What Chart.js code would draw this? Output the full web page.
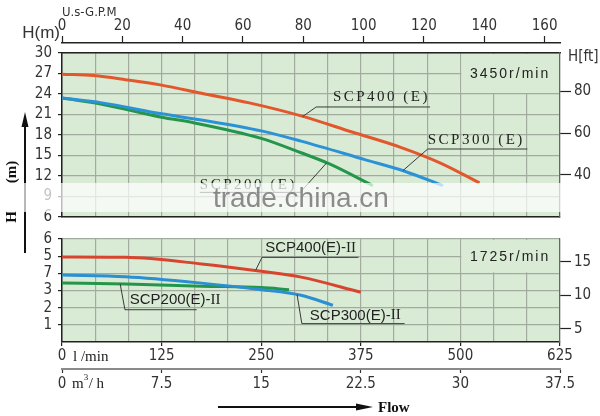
<!DOCTYPE html>
<html>
<head>
<meta charset="utf-8">
<script src="https://cdn.jsdelivr.net/npm/chart.js@4.4.1/dist/chart.umd.min.js"></script>
<style>
  html, body { margin: 0; padding: 0; background: #fff; }
  #wrap { position: relative; width: 600px; height: 416px; overflow: hidden; }
  #top-chart { position: absolute; left: 0; top: 0; }
  #bottom-chart { position: absolute; left: 0; top: 224px; }
</style>
</head>
<body>
<div id="wrap">
  <canvas id="top-chart" width="600" height="260"></canvas>
  <canvas id="bottom-chart" width="600" height="192"></canvas>
</div>
<script>
// 3450 r/min curves: flow (l/min) and head (m)
const q400 = [0, 40, 80, 125, 175, 235, 300, 365, 425, 475, 524];
const h400 = [26.9, 26.7, 26.1, 25.3, 24.1, 22.7, 20.8, 18.4, 16.2, 13.9, 11.0];
const q300 = [0, 50, 125, 175, 250, 300, 380, 430, 478];
const h300 = [23.4, 22.7, 21.1, 20.2, 18.6, 17.1, 14.4, 12.7, 10.6];
const q200 = [0, 50, 125, 165, 250, 300, 335, 390];
const h200 = [23.4, 22.5, 20.6, 19.8, 17.5, 15.4, 13.8, 10.6];

// 1725 r/min curves
const q400ii = [0, 80, 175, 250, 300, 375];
const h400ii = [4.95, 4.93, 4.55, 4.12, 3.78, 2.9];
const q300ii = [0, 80, 175, 250, 300, 340];
const h300ii = [3.9, 3.8, 3.43, 3.05, 2.72, 2.14];
const q200ii = [0, 80, 175, 250, 285];
const h200ii = [3.43, 3.38, 3.25, 3.17, 3.05];

// axis ticks
const gpmTicks = [0, 20, 40, 60, 80, 100, 120, 140, 160];
const flowTicks = [0, 125, 250, 375, 500, 625];
const m3hTicks = [0, 7.5, 15, 22.5, 30, 37.5];
const headTicksTop = [6, 9, 12, 15, 18, 21, 24, 27, 30];
const ftTicksTop = [40, 60, 80];
const headTicksLow = [1, 2, 3, 4, 5, 6];
const headLabelsLow = ['1', '2', '3', '7', '5', '6'];
const ftTicksLow = [5, 10, 15];
const flowGrid = Array.from({ length: 16 }, (_, i) => (i * 625) / 15);

const NARROW = "'Liberation Sans Narrow', 'DejaVu Sans Condensed', 'Liberation Sans', sans-serif";
const SANS = "'Liberation Sans', Arial, sans-serif";
const SERIF = "'Liberation Serif', 'DejaVu Serif', serif";
const PLOT_BG = '#d9ebd5';
const GRID = '#a2ac9e';
const INK = '#222';

// curve labels: text anchor (left, middle) and leader/underline path, in data units
const topNotes = [
  { text: 'SCP400 (E)', at: [340, 23.56], path: [[302, 20.7], [319, 22.1], [462, 22.1]] },
  { text: 'SCP300 (E)', at: [459, 17.27], path: [[428, 12.8], [459, 15.95], [584, 15.95]] },
  { text: 'SCP200 (E)', at: [173, 10.68], path: [[173, 9.6], [299, 9.6], [332, 13.9]] }
];
const lowNotes = [
  { text: 'SCP400(E)-', roman: 'II', at: [255, 5.46], path: [[243, 4.18], [251, 4.93], [372, 4.93]] },
  { text: 'SCP300(E)-', roman: 'II', at: [311, 1.55], path: [[295, 2.76], [301, 1.07], [430, 1.07]] },
  { text: 'SCP200(E)-', roman: 'II', at: [85, 2.46], path: [[73, 3.38], [79, 1.88], [169, 1.88]] }
];

const pts = (q, h) => q.map((v, i) => ({ x: v, y: h[i] }));
const isFlowLabel = v => flowTicks.some(t => Math.abs(t - v) < 1e-6);
const fixTicks = list => s => { s.ticks = list.map(v => ({ value: v })); };

function curve(label, data, color) {
  return {
    label, data, borderColor: color, borderWidth: 3, pointRadius: 0,
    cubicInterpolationMode: 'monotone', fill: false, xAxisID: 'x', yAxisID: 'y'
  };
}

function drawNotes(chart, notes, serifTop) {
  const { ctx, scales: { x, y } } = chart;
  const px = p => [x.getPixelForValue(p[0]), y.getPixelForValue(p[1])];
  ctx.save();
  notes.forEach(n => {
    ctx.strokeStyle = '#3a3a3a';
    ctx.lineWidth = 1;
    ctx.beginPath();
    n.path.forEach((p, i) => {
      const [a, b] = px(p);
      i ? ctx.lineTo(a, b) : ctx.moveTo(a, b);
    });
    ctx.stroke();
    const [tx, ty] = px(n.at);
    ctx.fillStyle = INK;
    ctx.textBaseline = 'middle';
    ctx.textAlign = 'left';
    if (serifTop) {
      ctx.font = `15px ${SERIF}`;
      ctx.letterSpacing = '2.5px';
      ctx.fillText(n.text, tx, ty);
      ctx.letterSpacing = '0px';
    } else {
      ctx.font = `15px ${SANS}`;
      ctx.fillText(n.text, tx, ty);
      const w = ctx.measureText(n.text).width;
      ctx.font = `15px ${SERIF}`;
      ctx.fillText(n.roman, tx + w, ty);
    }
  });
  ctx.restore();
}

function speedBox(chart, box, text) {
  const { ctx, scales: { x, y } } = chart;
  const l = x.getPixelForValue(box[0]) + 1, r = x.getPixelForValue(box[1]) - 1;
  const t = y.getPixelForValue(box[3]) + 1, b = y.getPixelForValue(box[2]) - 1;
  ctx.save();
  ctx.fillStyle = PLOT_BG;
  ctx.fillRect(l, t, r - l, b - t);
  ctx.fillStyle = INK;
  ctx.font = `14px ${SANS}`;
  ctx.letterSpacing = '2px';
  ctx.textAlign = 'left';
  ctx.textBaseline = 'middle';
  ctx.fillText(text, x.getPixelForValue(512), (t + b) / 2 + 1);
  ctx.restore();
}

const plotBg = {
  id: 'plotBg',
  beforeDraw(chart) {
    const { ctx, chartArea: a } = chart;
    ctx.save();
    ctx.fillStyle = PLOT_BG;
    ctx.fillRect(a.left, a.top, a.right - a.left, a.bottom - a.top);
    ctx.restore();
  }
};

const topDecor = {
  id: 'topDecor',
  beforeDatasetsDraw(chart) { speedBox(chart, [500, 625, 24, 30], '3450r/min'); },
  afterDatasetsDraw(chart) { drawNotes(chart, topNotes, true); },
  afterDraw(chart) {
    const { ctx, chartArea: a } = chart;
    ctx.save();
    ctx.fillStyle = '#333';
    ctx.textBaseline = 'middle';
    ctx.font = `13px ${NARROW}`;
    ctx.textAlign = 'left';
    ctx.fillText('U.s-G.P.M', a.left, 13);
    ctx.font = `17px ${SANS}`;
    ctx.textAlign = 'right';
    ctx.fillText('H(m)', a.left - 2, 33);
    ctx.font = `15px ${NARROW}`;
    ctx.textAlign = 'left';
    ctx.fillText('H[ft]', a.right + 8, 57);

    // vertical axis title with arrow
    ctx.strokeStyle = '#111';
    ctx.fillStyle = '#111';
    ctx.lineWidth = 2;
    ctx.beginPath();
    ctx.moveTo(25, 253);
    ctx.lineTo(25, 124);
    ctx.stroke();
    ctx.beginPath();
    ctx.moveTo(25, 112);
    ctx.lineTo(21.5, 127);
    ctx.lineTo(28.5, 127);
    ctx.closePath();
    ctx.fill();
    ctx.font = `bold 15px ${SERIF}`;
    ctx.textAlign = 'center';
    [['(m)', 172], ['H', 217]].forEach(([t, cy]) => {
      ctx.save();
      ctx.translate(12, cy);
      ctx.rotate(-Math.PI / 2);
      ctx.fillText(t, 0, 0);
      ctx.restore();
    });

    // site watermark band
    ctx.fillStyle = 'rgba(255,255,255,0.7)';
    ctx.fillRect(0, 183, 600, 29);
    ctx.fillStyle = 'rgba(120,120,120,0.85)';
    ctx.font = `28px ${SANS}`;
    ctx.textAlign = 'left';
    ctx.textBaseline = 'alphabetic';
    ctx.fillText('trade.china.cn', 213, 207);
    ctx.restore();
  }
};

const lowDecor = {
  id: 'lowDecor',
  beforeDatasetsDraw(chart) { speedBox(chart, [500, 625, 4, 6], '1725r/min'); },
  afterDatasetsDraw(chart) { drawNotes(chart, lowNotes, false); },
  afterDraw(chart) {
    const { ctx, scales: { x, m3h } } = chart;
    const x0 = x.getPixelForValue(0);
    ctx.save();
    ctx.fillStyle = '#222';
    ctx.textBaseline = 'middle';
    ctx.textAlign = 'left';
    ctx.font = `15px ${SERIF}`;
    ctx.fillText('l /min', x0 + 11, x.top + 15);
    const my = m3h.top + 15;
    ctx.fillText('m', x0 + 10, my);
    const mw = ctx.measureText('m').width;
    ctx.font = `9px ${SERIF}`;
    ctx.fillText('3', x0 + 10 + mw, my - 6);
    ctx.font = `15px ${SERIF}`;
    ctx.fillText('/ h', x0 + 15 + mw, my);

    // flow arrow
    const ay = chart.chartArea.bottom + 65;
    ctx.strokeStyle = '#111';
    ctx.fillStyle = '#111';
    ctx.lineWidth = 2;
    ctx.beginPath();
    ctx.moveTo(218, ay);
    ctx.lineTo(360, ay);
    ctx.stroke();
    ctx.beginPath();
    ctx.moveTo(373, ay);
    ctx.lineTo(356, ay - 3.5);
    ctx.lineTo(356, ay + 3.5);
    ctx.closePath();
    ctx.fill();
    ctx.font = `bold 15px ${SERIF}`;
    ctx.fillText('Flow', 378, ay + 1);
    ctx.restore();
  }
};

const tickFont = { family: NARROW, size: 15 };

new Chart(document.getElementById('top-chart'), {
  type: 'line',
  data: {
    datasets: [
      curve('SCP400 (E)', pts(q400, h400), '#e2582c'),
      curve('SCP300 (E)', pts(q300, h300), '#2b92d6'),
      curve('SCP200 (E)', pts(q200, h200), '#24964b')
    ]
  },
  options: {
    responsive: false,
    animation: false,
    devicePixelRatio: 1,
    layout: { padding: 0 },
    plugins: { legend: { display: false }, tooltip: { enabled: false } },
    scales: {
      x: {
        type: 'linear', position: 'bottom', min: 0, max: 625,
        afterBuildTicks: fixTicks(flowGrid),
        ticks: { display: false },
        grid: { color: GRID, lineWidth: 1.2, drawTicks: false },
        border: { color: '#222', width: 1.5 },
        afterFit: s => { s.height = 43; }
      },
      gap: {
        type: 'linear', position: 'top', weight: 0, min: 0, max: 1,
        ticks: { display: false },
        grid: { display: false },
        border: { color: '#222', width: 1.5 },
        afterFit: s => { s.height = 10; }
      },
      gpm: {
        type: 'linear', position: 'top', weight: 1, min: 0, max: 625 / 3.7854,
        afterBuildTicks: fixTicks(gpmTicks),
        ticks: { font: tickFont, color: '#333', padding: 1, maxRotation: 0, autoSkip: false },
        grid: { drawOnChartArea: false, tickLength: 7, tickColor: '#222', tickWidth: 1.2 },
        border: { color: '#222', width: 1.5 },
        afterFit: s => { s.height = 43; }
      },
      y: {
        type: 'linear', position: 'left', min: 6, max: 30,
        afterBuildTicks: fixTicks(headTicksTop),
        ticks: { font: tickFont, color: '#333', padding: 6, autoSkip: false },
        grid: { color: GRID, lineWidth: 1.2, tickLength: 4, tickColor: '#222' },
        border: { color: '#222', width: 1.5 },
        afterFit: s => { s.width = 62; }
      },
      ft: {
        type: 'linear', position: 'right', min: 6 * 3.28084, max: 30 * 3.28084,
        afterBuildTicks: fixTicks(ftTicksTop),
        ticks: { font: tickFont, color: '#333', padding: 3, autoSkip: false },
        grid: { drawOnChartArea: false, tickLength: 11, tickColor: '#222', tickWidth: 1.2 },
        border: { color: '#666', width: 1.2 },
        afterFit: s => { s.width = 40; }
      }
    }
  },
  plugins: [plotBg, topDecor]
});

new Chart(document.getElementById('bottom-chart'), {
  type: 'line',
  data: {
    datasets: [
      curve('SCP400(E)-II', pts(q400ii, h400ii), '#d8452f'),
      curve('SCP300(E)-II', pts(q300ii, h300ii), '#2b8fd2'),
      curve('SCP200(E)-II', pts(q200ii, h200ii), '#24964b')
    ]
  },
  options: {
    responsive: false,
    animation: false,
    devicePixelRatio: 1,
    layout: { padding: { top: 6, bottom: 25, left: 0, right: 0 } },
    plugins: { legend: { display: false }, tooltip: { enabled: false } },
    scales: {
      x: {
        type: 'linear', position: 'bottom', weight: 0, min: 0, max: 625,
        afterBuildTicks: fixTicks(flowGrid),
        ticks: {
          font: tickFont, color: '#333', padding: 1, maxRotation: 0, autoSkip: false,
          callback: v => isFlowLabel(v) ? String(Math.round(v)) : ''
        },
        grid: {
          color: GRID, lineWidth: 1.2, tickLength: 4, tickWidth: 1.2,
          tickColor: c => (c.tick && isFlowLabel(c.tick.value)) ? '#222' : 'rgba(0,0,0,0)'
        },
        border: { color: '#222', width: 1.5 },
        afterFit: s => { s.height = 27; }
      },
      m3h: {
        type: 'linear', position: 'bottom', weight: 1, min: 0, max: 37.5,
        afterBuildTicks: fixTicks(m3hTicks),
        ticks: { font: tickFont, color: '#333', padding: 2, maxRotation: 0, autoSkip: false },
        grid: { drawOnChartArea: false, tickLength: 4, tickColor: '#333', tickWidth: 1.2 },
        border: { color: '#8a8a8a', width: 2 },
        afterFit: s => { s.height = 22; }
      },
      y: {
        type: 'linear', position: 'left', min: 0, max: 6,
        afterBuildTicks: fixTicks(headTicksLow),
        ticks: {
          font: tickFont, color: '#333', padding: 6, autoSkip: false,
          callback: v => headLabelsLow[headTicksLow.indexOf(v)]
        },
        grid: { color: GRID, lineWidth: 1.2, tickLength: 4, tickColor: '#222' },
        border: { color: '#222', width: 1.5 },
        afterFit: s => { s.width = 62; }
      },
      ft: {
        type: 'linear', position: 'right', min: 3.0, max: 18.4,
        afterBuildTicks: fixTicks(ftTicksLow),
        ticks: { font: tickFont, color: '#333', padding: 3, autoSkip: false },
        grid: { drawOnChartArea: false, tickLength: 11, tickColor: '#222', tickWidth: 1.2 },
        border: { color: '#666', width: 1.2 },
        afterFit: s => { s.width = 40; }
      }
    }
  },
  plugins: [plotBg, lowDecor]
});
</script>
</body>
</html>
